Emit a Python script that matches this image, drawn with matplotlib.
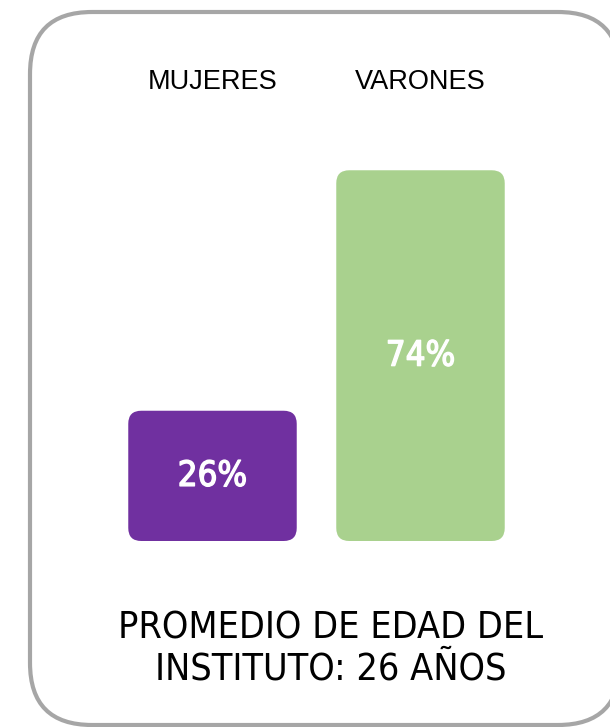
import matplotlib
matplotlib.use('Agg')
import matplotlib.pyplot as plt
import matplotlib.patheffects as pe
from matplotlib.patches import FancyBboxPatch
from matplotlib.transforms import blended_transform_factory

categories = ['MUJERES', 'VARONES']
values = [26, 74]
value_labels = ['26%', '74%']
colors = ['#7030a0', '#a9d18e']
footer = 'PROMEDIO DE EDAD DEL\nINSTITUTO: 26 AÑOS'

W, H = 610, 727
fig = plt.figure(figsize=(W / 100, H / 100), dpi=100)
plt.rcParams['font.family'] = ['DejaVu Sans']

# outer rounded frame (figure pixels); filled so agg doesn't clip the curves
frame = FancyBboxPatch((30, 2), 590, 713, boxstyle='round,pad=0,rounding_size=62',
                       transform=None, facecolor='white', edgecolor='#a6a6a6',
                       linewidth=3.0, zorder=-1)
fig.patches.append(frame)

# axes placed in pixel terms
ax_l, ax_r = 108.5, 524.5
ax_b, ax_t = 186, 687
ax = fig.add_axes([ax_l / W, ax_b / H, (ax_r - ax_l) / W, (ax_t - ax_b) / H])
ax.set_xlim(-0.5, 1.5)
ax.set_ylim(0, 100)
ax.axis('off')

xpx = 2.0 / (ax_r - ax_l)
ypx = 100.0 / (ax_t - ax_b)
radius_px = 13
bw = 0.81

for i, (v, c) in enumerate(zip(values, colors)):
    p = FancyBboxPatch((i - bw / 2, 0), bw, v,
                       boxstyle='round,pad=0,rounding_size=%f' % (radius_px * xpx),
                       mutation_aspect=ypx / xpx, facecolor=c, edgecolor='none')
    ax.add_patch(p)
    ax.text(i, v / 2, value_labels[i], ha='center', va='center', color='white',
            fontsize=25, fontstretch='condensed',
            path_effects=[pe.withStroke(linewidth=1.0, foreground='white')])

trans = blended_transform_factory(ax.transData, fig.transFigure)
for i, cat in enumerate(categories):
    ax.text(i, 1 - 82 / H, cat, transform=trans, ha='center', va='center',
            fontsize=19.5, family=['Liberation Sans', 'DejaVu Sans'])

fig.text(331 / W, 1 - 649 / H, footer, ha='center', va='center', fontsize=27,
         linespacing=1.15, fontstretch='condensed')

fig.savefig('out.png', dpi=100, facecolor='white')
